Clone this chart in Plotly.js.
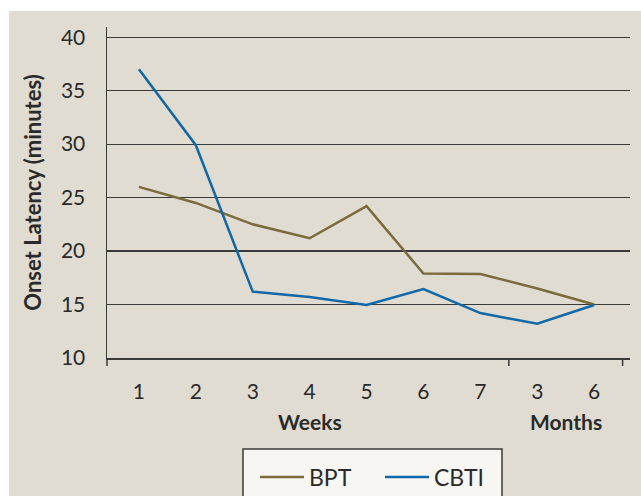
<!DOCTYPE html>
<html><head><meta charset="utf-8">
<script src="https://cdn.plot.ly/plotly-3.0.1.min.js"></script>
<style>
html,body{margin:0;padding:0;background:#fff;}
#wrap{position:relative;width:641px;height:496px;background:#fff;overflow:hidden;}
#chart{position:absolute;left:9px;top:11px;width:632px;height:485px;}
</style></head>
<body><div id="wrap"><div id="chart"></div></div>
<script>
const tickLabels = ["1","2","3","4","5","6","7","3","6"];
const bptValues  = [26.0, 24.5, 22.5, 21.2, 24.2, 17.9, 17.85, 16.5, 15.0];
const cbtiValues = [37.0, 29.9, 16.2, 15.7, 14.95, 16.45, 14.2, 13.2, 14.95];
const seriesNames = ["BPT", "CBTI"];
const groupLabels = ["Weeks", "Months"];

const idx = tickLabels.map((_, i) => i);
const FONT = "Lato, 'Open Sans', sans-serif";
const TXT = "#2a2a2a";
const AX = "#3a3a3a";

// geometry helpers (absolute page px -> paper fractions)
const PL = 107, PR = 630, PT = 27, PB = 358;
const px = a => (a - PL) / (PR - PL);
const py = a => (PB - a) / (PB - PT);

const traces = [
  {x: idx, y: bptValues, name: seriesNames[0], type: "scatter", mode: "lines",
   line: {color: "#7b6a3c", width: 2.5}},
  {x: idx, y: cbtiValues, name: seriesNames[1], type: "scatter", mode: "lines",
   line: {color: "#1068a8", width: 2.5}}
];

const layout = {
  width: 632, height: 485,
  paper_bgcolor: "#e0dcd1", plot_bgcolor: "rgba(0,0,0,0)",
  margin: {l: PL - 9, r: 641 - PR, t: PT - 11, b: 496 - PB},
  font: {family: FONT, color: TXT, size: 21},
  showlegend: true,
  legend: {orientation: "h", xref: "paper", x: px(255), xanchor: "left",
    yref: "container", y: 19 / 485, yanchor: "middle",
    bgcolor: "rgba(0,0,0,0)", borderwidth: 0,
    font: {family: FONT, size: 23, color: TXT},
    entrywidth: 66, entrywidthmode: "pixels", itemwidth: 44},
  xaxis: {range: [-0.561, 8.63], tickmode: "array", tickvals: idx, ticktext: tickLabels,
    showgrid: false, zeroline: false, showline: true, linecolor: AX, linewidth: 1.5, ticks: "",
    ticklabelstandoff: 14, tickfont: {family: FONT, size: 21, color: TXT}},
  yaxis: {range: [10, 40.95], tickmode: "array", tickvals: [10,15,20,25,30,35,40],
    showgrid: true, gridcolor: AX, gridwidth: 1.2, zeroline: false,
    showline: true, linecolor: AX, linewidth: 1.5, ticks: "",
    ticklabelstandoff: 16, tickfont: {family: FONT, size: 21, color: TXT},
    title: {text: "<b>Onset Latency (minutes)</b>", font: {family: FONT, size: 22, color: TXT}, standoff: 13}},
  shapes: [
    {type: "rect", xref: "paper", yref: "paper", x0: px(243), x1: px(502), y0: py(449), y1: py(505),
     fillcolor: "#f7f6f3", line: {color: AX, width: 1.5}, layer: "below"},
    {type: "line", xref: "paper", yref: "paper", x0: 0, x1: 0, y0: 0, y1: py(366),
     line: {color: AX, width: 1.5}},
    {type: "line", xref: "x", yref: "paper", x0: 6.5, x1: 6.5, y0: 0, y1: py(366),
     line: {color: AX, width: 1.5}},
    {type: "line", xref: "x", yref: "paper", x0: 8.5, x1: 8.5, y0: 0, y1: py(366),
     line: {color: AX, width: 1.5}}
  ],
  annotations: [
    {text: "<b>" + groupLabels[0] + "</b>", xref: "x", yref: "paper", x: 3, y: py(421),
     yanchor: "middle", showarrow: false, font: {family: FONT, size: 21, color: TXT}},
    {text: "<b>" + groupLabels[1] + "</b>", xref: "x", yref: "paper", x: 7.5, y: py(421),
     yanchor: "middle", showarrow: false, font: {family: FONT, size: 21, color: TXT}}
  ]
};

Plotly.newPlot("chart", traces, layout, {displayModeBar: false, staticPlot: true});
</script></body></html>
